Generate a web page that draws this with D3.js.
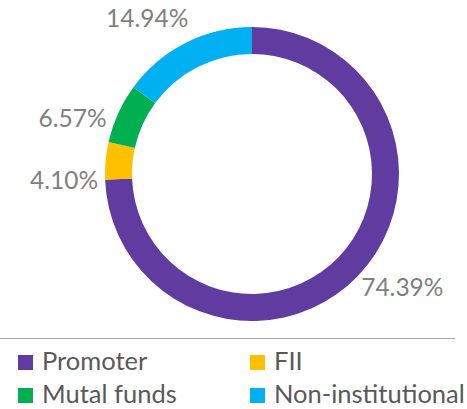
<!DOCTYPE html>
<html>
<head>
<meta charset="utf-8">
<script src="https://cdn.jsdelivr.net/npm/d3@7"></script>
<style>
  body { margin: 0; background: #fff; }
  text { font-family: Lato, "Open Sans", sans-serif; }
</style>
</head>
<body>
<svg id="chart" width="467" height="409"></svg>
<script>
// shareholding pattern
const categories = ["Promoter", "FII", "Mutal funds", "Non-institutional"];
const shares = [74.39, 4.10, 6.57, 14.94];
const shareLabels = ["74.39%", "4.10%", "6.57%", "14.94%"];
const colors = ["#603ca0", "#ffc000", "#00b050", "#00b0f0"];

const data = categories.map((c, i) => ({ name: c, value: shares[i], label: shareLabels[i] }));

const svg = d3.select('#chart');
const cx = 252, cy = 174;
const outerR = 147, innerR = 120;

const color = d3.scaleOrdinal().domain(categories).range(colors);

const pie = d3.pie().value(d => d.value).sort(null);
const arc = d3.arc().innerRadius(innerR).outerRadius(outerR);

const g = svg.append('g').attr('transform', `translate(${cx},${cy})`);

const arcs = pie(data);

g.selectAll('path.slice')
    .data(arcs)
    .enter().append('path')
    .attr('class', 'slice')
    .attr('d', arc)
    .attr('fill', d => color(d.data.name));

// data labels sit outside the ring, nudged a bit back against the clock like Excel does
const labelR = 188;
const shift = -7 * Math.PI / 180;
g.selectAll('text.lbl')
    .data(arcs)
    .enter().append('text')
    .attr('class', 'lbl')
    .attr('x', d => labelR * Math.sin((d.startAngle + d.endAngle) / 2 + shift))
    .attr('y', d => -labelR * Math.cos((d.startAngle + d.endAngle) / 2 + shift))
    .attr('dy', '0.36em')
    .attr('text-anchor', 'middle')
    .style('font-size', '24.5px')
    .attr('fill', '#7f7f7f')
    .text(d => d.data.label);

// separator line above the legend
svg.append('line')
    .attr('x1', 0).attr('x2', 455)
    .attr('y1', 338.5).attr('y2', 338.5)
    .attr('stroke', '#a6a6a6')
    .attr('stroke-width', 1);

// legend, two columns
const legend = svg.append('g').attr('class', 'legend');
const item = legend.selectAll('g.item')
    .data(categories)
    .enter().append('g')
    .attr('class', 'item')
    .attr('transform', (d, i) => `translate(${18 + (i % 2) * 232},${355 + Math.floor(i / 2) * 33})`);

item.append('rect')
    .attr('width', 15).attr('height', 15)
    .attr('fill', d => color(d));

item.append('text')
    .attr('x', 24)
    .attr('y', 14.5)
    .style('font-size', '25.5px')
    .attr('fill', '#595959')
    .text(d => d);
</script>
</body>
</html>
